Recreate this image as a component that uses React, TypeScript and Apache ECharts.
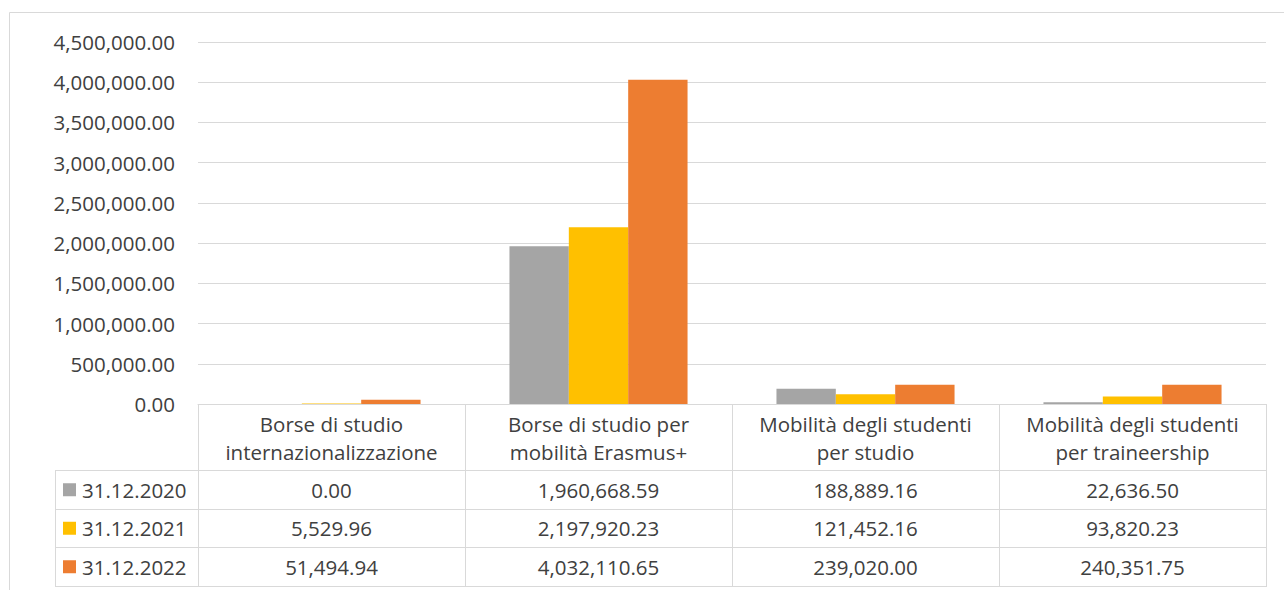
import React, { useEffect, useRef } from "react";
import * as echarts from "echarts";

const categories = [
  "Borse di studio\ninternazionalizzazione",
  "Borse di studio per\nmobilità Erasmus+",
  "Mobilità degli studenti\nper studio",
  "Mobilità degli studenti\nper traineership",
];
const seriesNames = ["31.12.2020", "31.12.2021", "31.12.2022"];
const values2020 = [0, 1960668.59, 188889.16, 22636.5];
const values2021 = [5529.96, 2197920.23, 121452.16, 93820.23];
const values2022 = [51494.94, 4032110.65, 239020.0, 240351.75];
const seriesColors = ["#A5A5A5", "#FFC000", "#ED7D31"];
const yMin = 0;
const yMax = 4500000;
const yStep = 500000;

const W = 1284;
const H = 590;
const FONT = "Open Sans";
const FS = 20.5;
const TEXT = "#404040";
const LINE = "#D9D9D9";

const fmt = (v: number) =>
  v.toLocaleString("en-US", { minimumFractionDigits: 2, maximumFractionDigits: 2 });

export default function App() {
  const ref = useRef<HTMLDivElement>(null);
  useEffect(() => {
    if (!ref.current) return;
    const chart = echarts.init(ref.current, null, { renderer: "svg" });

    const gridLeft = 198;
    const gridRight = 1266;
    const gridTop = 42;
    const axisY = 404;
    const headerBottom = 470;
    const rowH = 38.5;
    const tableLeft = 55;
    const allValues = [values2020, values2021, values2022];
    const colW = (gridRight - gridLeft) / categories.length;
    const tableBottom = headerBottom + rowH * seriesNames.length;

    const graphics: any[] = [];
    const hline = (x1: number, x2: number, y: number) =>
      graphics.push({
        type: "line",
        silent: true,
        shape: { x1, y1: Math.round(y) + 0.5, x2, y2: Math.round(y) + 0.5 },
        style: { stroke: LINE, lineWidth: 1 },
      });
    const vline = (x: number, y1: number, y2: number) =>
      graphics.push({
        type: "line",
        silent: true,
        shape: { x1: Math.round(x) + 0.5, y1, x2: Math.round(x) + 0.5, y2 },
        style: { stroke: LINE, lineWidth: 1 },
      });

    // outer frame
    graphics.push({
      type: "rect",
      silent: true,
      shape: { x: 9.5, y: 12.5, width: 1400, height: 700 },
      style: { fill: "none", stroke: LINE, lineWidth: 1 },
    });

    // table lines
    for (let r = 0; r <= seriesNames.length; r++) {
      hline(tableLeft, gridRight + 1, headerBottom + rowH * r);
    }
    vline(tableLeft, headerBottom, tableBottom + 1);
    for (let c = 0; c <= categories.length; c++) {
      vline(gridLeft + colW * c, axisY, tableBottom + 1);
    }

    // rows
    seriesNames.forEach((name, r) => {
      const cy = headerBottom + rowH * r + rowH / 2 + 0.5;
      graphics.push({
        type: "rect",
        silent: true,
        shape: { x: 63, y: cy - 6.5, width: 13, height: 13 },
        style: { fill: seriesColors[r] },
      });
      graphics.push({
        type: "text",
        silent: true,
        x: 82,
        y: cy,
        style: {
          text: name,
          fontFamily: FONT,
          fontSize: FS,
          fill: TEXT,
          verticalAlign: "middle",
          align: "left",
        },
      });
      allValues[r].forEach((v, c) => {
        graphics.push({
          type: "text",
          silent: true,
          x: gridLeft + colW * c + colW / 2,
          y: cy,
          style: {
            text: fmt(v),
            fontFamily: FONT,
            fontSize: FS,
            fill: TEXT,
            verticalAlign: "middle",
            align: "center",
          },
        });
      });
    });

    chart.setOption({
      animation: false,
      backgroundColor: "#ffffff",
      grid: {
        left: gridLeft,
        right: W - gridRight,
        top: gridTop,
        bottom: H - axisY,
        containLabel: false,
      },
      xAxis: {
        type: "category",
        data: categories,
        axisLine: { show: true, lineStyle: { color: LINE, width: 1 } },
        axisTick: { show: false },
        axisLabel: {
          interval: 0,
          margin: 6,
          fontFamily: FONT,
          fontSize: FS,
          lineHeight: 28,
          color: TEXT,
        },
      },
      yAxis: {
        type: "value",
        min: yMin,
        max: yMax,
        interval: yStep,
        axisLine: { show: false },
        axisTick: { show: false },
        splitLine: { lineStyle: { color: LINE, width: 1 } },
        axisLabel: {
          margin: 23,
          fontFamily: FONT,
          fontSize: FS,
          color: TEXT,
          formatter: (v: number) => fmt(v),
        },
      },
      series: seriesNames.map((name, i) => ({
        name,
        type: "bar",
        data: allValues[i],
        itemStyle: { color: seriesColors[i] },
        barGap: "0%",
        barCategoryGap: "33.3%",
      })),
      graphic: graphics,
    });
    return () => chart.dispose();
  }, []);

  return (
    <div
      ref={ref}
      style={{ position: "absolute", left: 0, top: 0, width: W, height: H, background: "#fff" }}
    />
  );
}
